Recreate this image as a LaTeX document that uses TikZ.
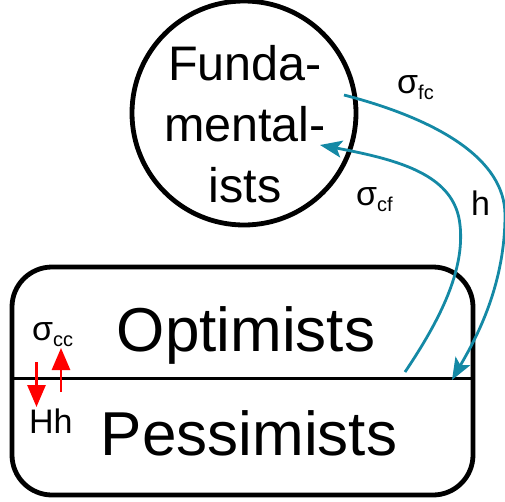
\documentclass[tikz,border=0pt]{standalone}
\usepackage{fontspec}
\setmainfont{Liberation Sans}
\usetikzlibrary{arrows.meta}
\definecolor{teal1}{RGB}{20,137,165}
\newcommand{\subs}[1]{\raisebox{-6pt}{\fontsize{20}{20}\selectfont #1}}
\tikzset{
  bigtext/.style={font=\fontsize{62}{62}\selectfont, inner sep=0pt},
  fundtext/.style={font=\fontsize{48.5}{61}\selectfont, align=center, inner sep=0pt},
  lbl/.style={font=\fontsize{34}{34}\selectfont, inner sep=0pt, anchor=base west},
  flow/.style={draw=teal1, line width=2.8pt, -{Stealth[length=22pt,width=17pt,inset=5pt]}},
  redflow/.style={draw=red, line width=2.8pt, -{Triangle[length=22pt,width=18pt]}},
}
\begin{document}
\begin{tikzpicture}[x=1pt,y=-1pt]
\useasboundingbox (0,0) rectangle (505,501);
% Fundamentalists circle
\node[circle, draw, line width=4.8pt, minimum size=224pt, inner sep=0pt] (fund) at (244,113) {};
\node[fundtext] (fundlbl) at (245,124) {Funda-\\mental-\\ists};
% Box
\node[rectangle, rounded corners=40pt, draw, line width=4.8pt, minimum width=461pt, minimum height=228pt, inner sep=0pt] (box) at (242.5,381) {};
\coordinate (divl) at (12,378);
\coordinate (divr) at (473,378);
\draw[line width=3pt] (divl) -- (divr);
\node[bigtext, anchor=base] (opt) at (246,351) {Optimists};
\node[bigtext, anchor=base] (pess) at (249,455) {Pessimists};
% labels
\node[lbl] (sfc) at (397,93) {σ\subs{fc}};
\node[lbl] (scf) at (356,205) {σ\subs{cf}};
\node[lbl] (hl) at (471,215) {h};
\node[lbl] (scc) at (32,340) {σ\subs{cc}};
\node[lbl] (hh) at (29,433) {Hh};
% teal arrows
\coordinate (fcs) at (344,95);
\coordinate (fce) at (452,380);
\coordinate (cfs) at (405,372);
\coordinate (cfe) at (320,145);
\draw[flow] (fcs) .. controls (440,120) and (505,160) .. (505,215) .. controls (505,290) and (472,345) .. (fce);
\draw[flow] (cfs) .. controls (440,320) and (465,270) .. (460,225) .. controls (455,175) and (400,160) .. (cfe);
% red arrows
\coordinate (rds) at (36.5,362);
\coordinate (rde) at (36.5,407);
\coordinate (rus) at (61,392);
\coordinate (rue) at (61,348);
\draw[redflow] (rds) -- (rde);
\draw[redflow] (rus) -- (rue);
\end{tikzpicture}
\end{document}
